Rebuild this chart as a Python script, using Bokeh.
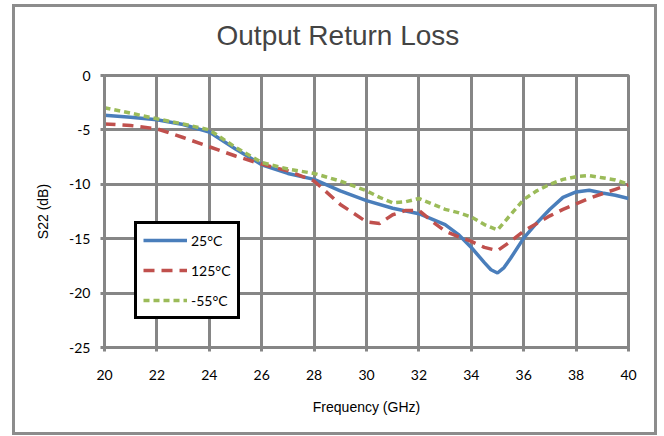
from bokeh.plotting import figure
from bokeh.models import Range1d, FixedTicker, Legend, LegendItem, Title
from bokeh.embed import file_html
from bokeh.resources import INLINE

title_text = "Output Return Loss"
x_label = "Frequency (GHz)"
y_label = "S22 (dB)"
x_ticks = [20, 22, 24, 26, 28, 30, 32, 34, 36, 38, 40]
y_ticks = [0, -5, -10, -15, -20, -25]

freq_a = [20, 21, 22, 23, 24, 25, 26, 27, 28, 29, 30, 31, 32, 33, 33.5, 34, 34.5, 34.75, 35,
          35.25, 35.5, 36, 36.5, 37, 37.5, 38, 38.5, 39, 39.5, 40]
s22_25c = [-3.65, -3.83, -4.07, -4.5, -5.2, -6.75, -8.2, -9.0, -9.55, -10.6, -11.5, -12.2,
           -12.7, -13.7, -14.6, -15.8, -17.2, -17.85, -18.15, -17.65, -16.8, -14.95, -13.55,
           -12.3, -11.2, -10.7, -10.55, -10.8, -11.0, -11.3]

freq_b = [20, 21, 22, 23, 24, 25, 26, 27, 28, 29, 30, 30.5, 31, 31.5, 32, 32.5, 33, 33.5,
          34, 34.5, 35, 35.5, 36, 36.5, 37, 37.5, 38, 38.5, 39, 39.5, 40]
s22_125c = [-4.45, -4.6, -4.9, -5.7, -6.55, -7.4, -8.15, -8.77, -9.7, -11.85, -13.45, -13.6,
            -12.8, -12.4, -12.4, -13.4, -14.3, -14.8, -15.25, -15.8, -16.1, -15.25, -14.3,
            -13.6, -12.9, -12.3, -11.8, -11.3, -10.87, -10.46, -10.05]

freq_c = [20, 21, 22, 23, 24, 25, 26, 27, 28, 29, 30, 30.5, 31, 31.5, 32, 32.5, 33, 33.5,
          34, 34.5, 35, 35.5, 36, 36.5, 37, 37.5, 38, 38.5, 39, 39.5, 40]
s22_m55c = [-2.96, -3.46, -3.98, -4.45, -5.0, -6.6, -8.0, -8.6, -9.0, -9.7, -10.6, -11.2,
            -11.7, -11.6, -11.3, -11.8, -12.3, -12.6, -13.0, -13.7, -14.2, -12.8, -11.4,
            -10.6, -10.0, -9.55, -9.3, -9.2, -9.4, -9.6, -10.0]

labels = ["25\u00b0C", "125\u00b0C", "-55\u00b0C"]
colors = ["#4a7ebb", "#c0504d", "#9bbb59"]

GRID = "#868686"

p = figure(frame_width=524, frame_height=272, width=639, height=425,
           x_range=Range1d(20, 40), y_range=Range1d(-25, 0),
           output_backend="svg", toolbar_location=None,
           min_border_left=89, min_border_right=26, min_border_top=68, min_border_bottom=85)
p.styles = {"margin-left": "12px", "margin-top": "4px", "border": "3px solid #8c8c8c"}
p.background_fill_color = "white"
p.border_fill_color = "white"
p.outline_line_color = GRID
p.outline_line_width = 3

# small blank spacer between frame and title
p.add_layout(Title(text=" ", text_font_size="8px", standoff=0), "above")

p.title.text = title_text
p.title.text_font = "Liberation Sans"
p.title.text_font_size = "28px"
p.title.text_font_style = "normal"
p.title.align = "left"
p.title.offset = 112
p.title.vertical_align = "top"
p.title.standoff = 23

for ax in (p.xaxis[0], p.yaxis[0]):
    ax.axis_line_color = GRID
    ax.axis_line_width = 3
    ax.major_tick_line_color = GRID
    ax.major_tick_line_width = 3
    ax.major_tick_out = 4
    ax.major_tick_in = 0
    ax.minor_tick_line_color = None
    ax.major_label_text_font = "Lato"
    ax.major_label_text_font_size = "14px"
    ax.major_label_text_color = "black"
    ax.axis_label_text_font = "Liberation Sans"
    ax.axis_label_text_font_size = "14px"
    ax.axis_label_text_font_style = "normal"
    ax.axis_label_text_color = "black"

p.xaxis.ticker = FixedTicker(ticks=x_ticks)
p.yaxis.ticker = FixedTicker(ticks=y_ticks)
p.xaxis.major_label_overrides = {t: str(t) for t in x_ticks}
p.yaxis.major_label_overrides = {t: str(t) for t in y_ticks}
p.xaxis.axis_label = x_label
p.yaxis.axis_label = y_label
p.xaxis.major_label_standoff = 18
p.xaxis.axis_label_standoff = 16
p.yaxis.major_label_standoff = 10
p.yaxis.axis_label_standoff = 15

p.xgrid.grid_line_color = GRID
p.xgrid.grid_line_width = 3
p.ygrid.grid_line_color = GRID
p.ygrid.grid_line_width = 3

r1 = p.line(freq_a, s22_25c, line_color=colors[0], line_width=3.5)
r2 = p.line(freq_b, s22_125c, line_color=colors[1], line_width=3.5, line_dash="11 7")
r3 = p.line(freq_c, s22_m55c, line_color=colors[2], line_width=3.5, line_dash="6 4")

legend = Legend(items=[LegendItem(label=labels[0], renderers=[r1]),
                       LegendItem(label=labels[1], renderers=[r2]),
                       LegendItem(label=labels[2], renderers=[r3])],
                location=(30, 28))
legend.border_line_color = "black"
legend.border_line_alpha = 1
legend.border_line_width = 3
legend.background_fill_color = "white"
legend.background_fill_alpha = 1
legend.padding = 6
legend.spacing = 10
legend.margin = 0
legend.glyph_width = 44
legend.glyph_height = 20
legend.label_height = 20
legend.label_standoff = 4
legend.label_text_font = "Lato"
legend.label_text_font_size = "14px"
legend.label_text_color = "black"
p.add_layout(legend, "center")

open("out.html", "w").write(file_html(p, INLINE))
